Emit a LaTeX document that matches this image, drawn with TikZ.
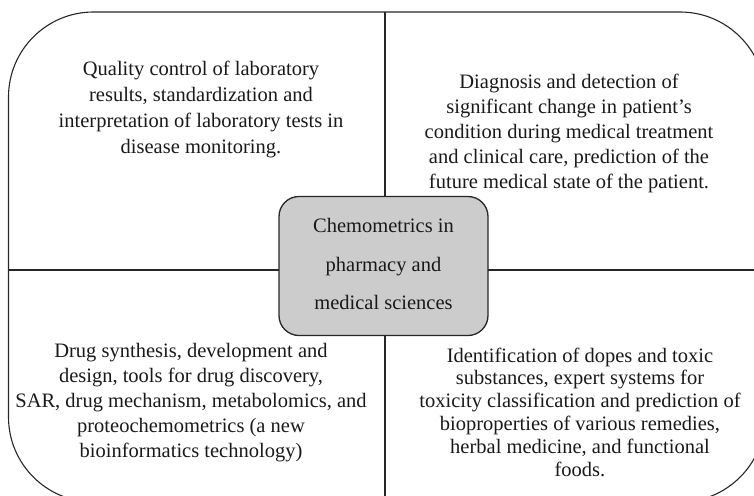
\documentclass[tikz,border=0pt]{standalone}
\usepackage{fontspec}
\setmainfont{Liberation Serif}
\begin{document}
\begin{tikzpicture}[x=1pt,y=-1pt,
  txt/.style={align=center,font=\fontsize{20.5}{25}\selectfont,text=black!90},
  hub/.style={draw=black!85,line width=1.3pt,fill=black!20,rounded corners=20pt},
  divider/.style={draw=black!85,line width=1.1pt}]
\useasboundingbox (0,0) rectangle (754,495);
\begin{scope}
\clip (0,0) rectangle (754,495);
\draw[draw=black!85,line width=1.1pt,rounded corners=85pt] (8.5,12) rectangle (765,502);
\coordinate (L) at (8.5,270);
\coordinate (R) at (760,270);
\coordinate (T) at (385,12);
\coordinate (B) at (385,500);
\draw[divider] (L) -- (R);
\draw[divider] (T) -- (B);
\end{scope}
\node[hub,minimum width=209pt,minimum height=139pt] (hub) at (383.5,266) {};
\node[txt,font=\fontsize{20.5}{38.5}\selectfont] (hubt) at (383.5,264) {Chemometrics in\\pharmacy and\\medical sciences};
\node[txt,font=\fontsize{20.5}{26}\selectfont] (tl) at (201,109) {Quality control of laboratory\\results, standardization and\\interpretation of laboratory tests in\\disease monitoring.};
\node[txt] (tr) at (569,133) {Diagnosis and detection of\\significant change in patient’s\\condition during medical treatment\\and clinical care, prediction of the\\future medical state of the patient.};
\node[txt] (bl) at (191,403) {Drug synthesis, development and\\design, tools for drug discovery,\\SAR, drug mechanism, metabolomics, and\\proteochemometrics (a new\\bioinformatics technology)};
\node[txt,font=\fontsize{20.5}{22.8}\selectfont] (br) at (580,412) {Identification of dopes and toxic\\substances, expert systems for\\toxicity classification and prediction of\\bioproperties of various remedies,\\herbal medicine, and functional\\foods.};
\end{tikzpicture}
\end{document}
